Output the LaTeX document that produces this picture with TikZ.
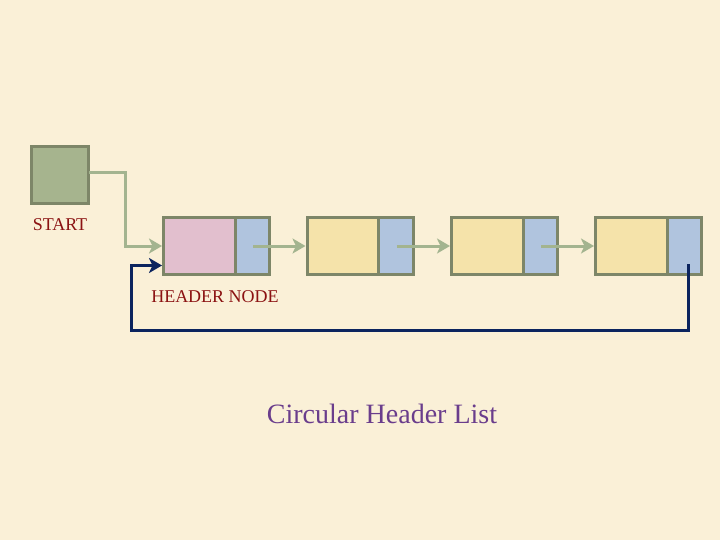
\documentclass[tikz,border=0pt]{standalone}
\usepackage{fontspec}
\setmainfont{Liberation Serif}
\usetikzlibrary{arrows.meta}
\definecolor{bg}{HTML}{FAF0D7}
\definecolor{startfill}{HTML}{A6B48E}
\definecolor{border}{HTML}{7D8668}
\definecolor{pinkfill}{HTML}{E2BFCE}
\definecolor{bluefill}{HTML}{B0C4DE}
\definecolor{yellowfill}{HTML}{F5E3AA}
\definecolor{greenarrow}{HTML}{A3B48F}
\definecolor{navy}{HTML}{0B245E}
\definecolor{darkred}{HTML}{8B1212}
\definecolor{purplet}{HTML}{6A3D8C}
\tikzset{
  box/.style={draw=border, line width=3pt, minimum height=57pt, inner sep=0pt, outer sep=0pt, anchor=north west},
  datapart/.style={box, minimum width=71.5pt},
  ptrpart/.style={box, minimum width=34.5pt, fill=bluefill},
  tip/.style={-{Stealth[length=13pt,width=15pt,inset=3.5pt]}},
  garrow/.style={draw=greenarrow, line width=3pt, tip},
  narrow/.style={draw=navy, line width=3pt, tip},
  lbl/.style={text=darkred, font=\fontsize{18}{20}\selectfont}
}
\begin{document}
\begin{tikzpicture}[x=1pt,y=-1pt]
\fill[bg] (0,0) rectangle (720,540);
\useasboundingbox (0,0) rectangle (720,540);
\node[box, fill=startfill, minimum width=57pt, minimum height=57pt] (start) at (31.5,146.5) {};
\node[lbl] (startlbl) at (60,225) {START};
\node[datapart, fill=pinkfill] (d1) at (163.5,217.5) {};
\node[ptrpart] (p1) at (235,217.5) {};
\node[datapart, fill=yellowfill] (d2) at (307,217.5) {};
\node[ptrpart] (p2) at (378.5,217.5) {};
\node[datapart, fill=yellowfill] (d3) at (451.5,217.5) {};
\node[ptrpart] (p3) at (523,217.5) {};
\node[datapart, fill=yellowfill] (d4) at (595.5,217.5) {};
\node[ptrpart] (p4) at (667,217.5) {};
\node[lbl] (hlbl) at (215,297) {HEADER NODE};
\node[text=purplet, font=\fontsize{28}{32}\selectfont] (cap) at (382,414) {Circular Header List};
\coordinate (s1) at (125,173);
\draw[garrow] (start.east |- s1) -- (s1) |- ([xshift=-1.5pt]d1.west);
\draw[garrow] ([xshift=1pt]p1.center) -- ([xshift=-1.5pt]d2.west);
\draw[garrow] ([xshift=1pt]p2.center) -- ([xshift=-1.5pt]d3.west);
\draw[garrow] ([xshift=1pt]p3.center) -- ([xshift=-1.5pt]d4.west);
\coordinate (b1) at (689,330);
\coordinate (b2) at (131,330);
\draw[narrow] ([xshift=4.5pt,yshift=-18pt]p4.center) -- ([xshift=4.5pt]p4.center |- b1) -- (b2) |- ([xshift=-1.5pt,yshift=-19.5pt]d1.west);
\end{tikzpicture}
\end{document}
